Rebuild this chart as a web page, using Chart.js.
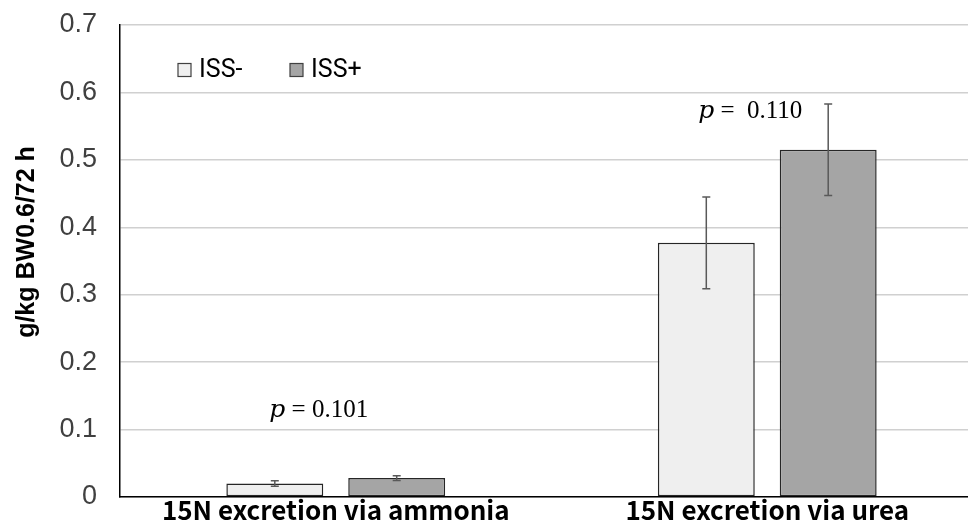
<!DOCTYPE html>
<html>
<head>
<meta charset="utf-8">
<script src="https://cdn.jsdelivr.net/npm/chart.js@4.4.0/dist/chart.umd.min.js"></script>
<style>
  html, body { margin: 0; padding: 0; background: #fff; overflow: hidden; }
</style>
</head>
<body>
<canvas id="myChart" width="985" height="526"></canvas>
<script>
// data
const categories = ['15N excretion via ammonia', '15N excretion via urea'];
const seriesNames = ['ISS-', 'ISS+'];
const issMinus = [0.020, 0.377];
const issPlus = [0.028, 0.515];
const errMinus = [0.004, 0.068];
const errPlus = [0.0035, 0.068];
const yTicks = [0, 0.1, 0.2, 0.3, 0.4, 0.5, 0.6, 0.7];
const yTitle = 'g/kg BW0.6/72 h';
const pLabels = ['0.101', ' 0.110'];
const pLabelY = [0.128, 0.572];

const fills = ['#efefef', '#a5a5a5'];

// draws error bars, legend inside plot, axis title and p-value notes
const extras = {
    id: 'extras',
    afterDatasetsDraw(chart) {
        const ctx = chart.ctx;
        const y = chart.scales.y;
        const errs = [errMinus, errPlus];
        ctx.save();
        ctx.strokeStyle = '#595959';
        ctx.lineWidth = 1.5;
        chart.data.datasets.forEach((ds, di) => {
            const meta = chart.getDatasetMeta(di);
            meta.data.forEach((bar, i) => {
                const v = ds.data[i];
                const top = y.getPixelForValue(v + errs[di][i]);
                const bot = y.getPixelForValue(v - errs[di][i]);
                ctx.beginPath();
                ctx.moveTo(bar.x, top); ctx.lineTo(bar.x, bot);
                ctx.moveTo(bar.x - 4, top); ctx.lineTo(bar.x + 4, top);
                ctx.moveTo(bar.x - 4, bot); ctx.lineTo(bar.x + 4, bot);
                ctx.stroke();
            });
        });

        // p values
        const x = chart.scales.x;
        ctx.fillStyle = '#000';
        ctx.textBaseline = 'middle';
        pLabels.forEach((t, i) => {
            const cx = x.getPixelForValue(i) - 17;
            const cy = y.getPixelForValue(pLabelY[i]);
            ctx.font = 'italic 25px "DejaVu Serif", serif';
            const pw = ctx.measureText('p').width;
            ctx.font = '25px "Liberation Serif", serif';
            const rest = ' = ' + t;
            const rw = ctx.measureText(rest).width;
            let sx = cx - (pw + rw) / 2;
            ctx.textAlign = 'left';
            ctx.font = 'italic 25px "DejaVu Serif", serif';
            ctx.fillText('p', sx, cy);
            ctx.font = '25px "Liberation Serif", serif';
            ctx.fillText(rest, sx + pw, cy);
        });

        // legend
        const lx = [178, 290];
        ctx.font = '25px "Liberation Sans Narrow", "Roboto", sans-serif';
        ctx.textAlign = 'left';
        seriesNames.forEach((n, i) => {
            ctx.fillStyle = fills[i];
            ctx.strokeStyle = '#404040';
            ctx.lineWidth = 1.2;
            ctx.fillRect(lx[i], 63.5, 13, 13);
            ctx.strokeRect(lx[i], 63.5, 13, 13);
            ctx.fillStyle = '#000';
            ctx.fillText(n, lx[i] + 21, 71);
        });

        // y axis title, sits a bit above the plot middle like the original
        ctx.translate(27, (chart.chartArea.top + chart.chartArea.bottom) / 2 - 19);
        ctx.rotate(-Math.PI / 2);
        ctx.textAlign = 'center';
        ctx.font = 'bold 25px "Liberation Sans", Arial, sans-serif';
        ctx.fillText(yTitle, 0, 0);
        ctx.restore();
    }
};

const ctx = document.getElementById('myChart').getContext('2d');
new Chart(ctx, {
    type: 'bar',
    data: {
        labels: categories,
        datasets: [
            { label: seriesNames[0], data: issMinus, backgroundColor: fills[0] },
            { label: seriesNames[1], data: issPlus, backgroundColor: fills[1] }
        ].map(ds => ({
            ...ds,
            borderColor: '#262626',
            borderWidth: 1.5,
            borderSkipped: false,
            categoryPercentage: 0.565,
            barPercentage: 0.795
        }))
    },
    options: {
        responsive: false,
        animation: false,
        layout: { padding: { top: 25, right: 2, left: 0, bottom: 0 } },
        plugins: {
            legend: { display: false },
            tooltip: { enabled: false }
        },
        scales: {
            x: {
                grid: { display: false, drawTicks: false },
                border: { color: '#000', width: 1.5 },
                ticks: {
                    color: '#000',
                    padding: 0,
                    font: { family: '"Noto Sans CJK SC", sans-serif', size: 26, weight: 'bold', lineHeight: 1 }
                },
                afterFit(scale) { scale.height = 29; }
            },
            y: {
                min: 0,
                max: 0.7,
                afterBuildTicks(scale) { scale.ticks = yTicks.map(v => ({ value: v })); },
                grid: { color: '#d0d0d0', lineWidth: 1.5, drawTicks: false },
                border: { color: '#000', width: 1.5 },
                ticks: {
                    color: '#404040',
                    padding: 23,
                    font: { family: '"Liberation Sans", Arial, sans-serif', size: 27, lineHeight: 0.1 },
                    callback: v => String(Math.round(v * 10) / 10)
                },
                afterFit(scale) { scale.width = 120; }
            }
        }
    },
    plugins: [extras]
});
</script>
</body>
</html>
